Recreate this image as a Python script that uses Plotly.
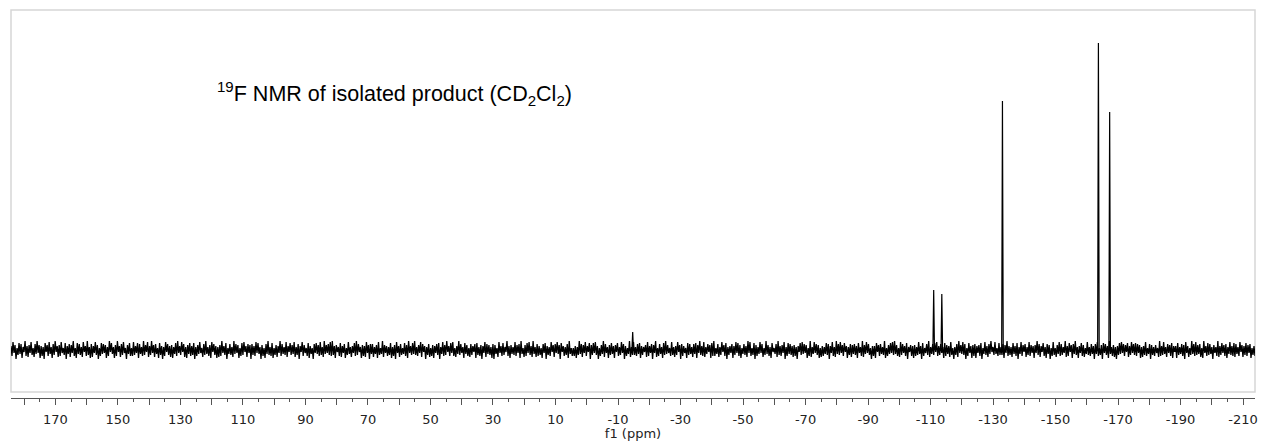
import numpy as np
import plotly.graph_objects as go

# Spectral window (ppm), left to right
ppm_left = 184.2
ppm_right = -213.8

# Baseline noise of the 19F spectrum, sampled evenly across the window
baseline_noise = [
    4, -6, 8, -3, 5, -9, 2, -5, 7, -4, 6, -8, 3, -2, 9, -6, 4, -7, 5, -3,
    8, -5, 2, -7, 6, -4, 9, -3, 5, -8, 4, -6, 3, -9, 7, -2, 5, -6, 8, -4,
    3, -8, 6, -5, 9, -2, 4, -7, 5, -6, 8, -3, 2, -5, 7, -9, 4, -4, 6, -7,
    5, -3, 9, -6, 2, -8, 7, -4, 6, -5, 3, -7, 8, -2, 4, -6, 9, -5, 3, -8,
    6, -7, 4, -3, 8, -5, 5, -9, 2, -6, 7, -4, 6, -3, 5, -8, 3, -6, 9, -2,
    7, -4, 3, -8, 5, -6, 9, -2, 4, -7, 6, -5, 8, -3, 2, -9, 5, -4, 7, -6,
    2, -6, 8, -5, 4, -3, 7, -8, 6, -4, 3, -6, 9, -5, 5, -2, 8, -7, 4, -5,
    9, -3, 5, -7, 6, -4, 2, -8, 7, -5, 4, -9, 3, -6, 8, -2, 6, -5, 4, -7,
    5, -8, 3, -4, 7, -6, 9, -3, 4, -5, 8, -2, 6, -7, 3, -8, 5, -4, 7, -6,
    4, -5, 7, -9, 3, -6, 5, -4, 8, -3, 2, -7, 6, -5, 9, -4, 3, -6, 5, -8,
    8, -2, 6, -5, 4, -8, 3, -7, 5, -6, 9, -3, 4, -5, 7, -9, 2, -4, 6, -5,
    3, -7, 9, -4, 6, -3, 5, -8, 2, -6, 7, -5, 8, -2, 4, -7, 6, -3, 5, -9,
    6, -5, 4, -6, 8, -3, 7, -4, 3, -9, 5, -6, 2, -8, 6, -4, 9, -5, 3, -6,
    7, -8, 2, -5, 5, -7, 4, -3, 9, -6, 6, -4, 3, -5, 8, -7, 4, -2, 7, -5,
    5, -4, 8, -7, 3, -5, 6, -9, 4, -2, 8, -6, 5, -3, 2, -6, 7, -8, 4, -4,
    2, -9, 6, -3, 7, -4, 5, -6, 8, -5, 3, -7, 9, -4, 5, -3, 6, -5, 8, -6,
    9, -5, 4, -8, 5, -2, 3, -6, 7, -7, 4, -3, 6, -8, 2, -5, 8, -4, 3, -7,
    4, -3, 7, -6, 9, -5, 6, -2, 3, -8, 5, -6, 4, -7, 8, -3, 5, -9, 6, -4,
    6, -7, 3, -4, 5, -8, 8, -5, 2, -4, 9, -7, 5, -3, 4, -6, 3, -5, 7, -8,
    3, -6, 5, -9, 8, -3, 4, -7, 6, -5, 2, -4, 7, -6, 5, -8, 9, -3, 4, -5,
    7, -4, 9, -5, 3, -6, 5, -3, 8, -7, 6, -2, 4, -9, 3, -5, 6, -7, 2, -6,
    5, -8, 4, -3, 6, -5, 7, -9, 3, -4, 8, -6, 5, -5, 9, -2, 4, -6, 7, -3,
    8, -6, 2, -7, 4, -4, 9, -5, 6, -3, 3, -8, 7, -4, 5, -6, 2, -7, 6, -5,
    4, -2, 6, -8, 7, -5, 3, -6, 5, -9, 4, -3, 8, -7, 6, -4, 5, -5, 3, -8,
    6, -9, 5, -4, 2, -7, 8, -3, 4, -6, 7, -5, 3, -2, 9, -6, 4, -8, 5, -4,
    3, -5, 8, -6, 5, -3, 6, -8, 9, -4, 2, -7, 5, -6, 7, -3, 8, -5, 4, -7,
    9, -4, 3, -7, 6, -6, 4, -5, 2, -8, 6, -3, 7, -9, 4, -5, 3, -6, 8, -2,
    5, -7, 6, -3, 8, -4, 5, -9, 7, -2, 4, -6, 3, -5, 6, -8, 9, -4, 2, -6,
    2, -6, 4, -8, 3, -5, 9, -4, 6, -7, 5, -3, 8, -6, 4, -2, 7, -9, 5, -5,
    7, -3, 8, -5, 4, -9, 2, -6, 5, -4, 9, -7, 6, -3, 3, -8, 5, -5, 7, -4,
    4, -8, 5, -2, 7, -6, 3, -5, 8, -3, 6, -9, 4, -6, 2, -4, 9, -7, 3, -5,
    8, -5, 3, -6, 6, -4, 7, -8, 4, -5, 3, -2, 5, -7, 8, -6, 4, -3, 6, -9,
    5, -3, 9, -7, 2, -6, 6, -4, 3, -8, 7, -5, 9, -4, 5, -3, 2, -6, 8, -5,
    3, -7, 4, -5, 8, -2, 5, -9, 6, -6, 4, -3, 2, -8, 7, -5, 6, -4, 3, -7,
    6, -4, 7, -8, 5, -3, 9, -5, 4, -6, 8, -7, 3, -4, 6, -2, 5, -8, 7, -6,
    9, -6, 2, -4, 6, -7, 3, -5, 8, -2, 5, -6, 7, -9, 3, -5, 4, -3, 6, -8,
    4, -5, 8, -3, 7, -6, 5, -8, 2, -4, 6, -5, 4, -7, 9, -3, 8, -6, 2, -5,
    7, -9, 5, -6, 3, -4, 8, -3, 6, -7, 2, -5, 9, -4, 5, -6, 3, -8, 7, -2,
    2, -4, 6, -7, 9, -5, 4, -6, 5, -3, 8, -9, 3, -6, 7, -4, 6, -5, 4, -7,
    5, -6, 3, -9, 4, -2, 7, -5, 8, -4, 6, -3, 5, -8, 2, -6, 9, -7, 3, -4,
    8, -3, 6, -5, 5, -8, 2, -7, 4, -6, 3, -4, 7, -5, 6, -9, 4, -3, 8, -6,
    3, -7, 9, -4, 6, -5, 8, -3, 5, -6, 7, -2, 4, -8, 3, -5, 6, -7, 5, -4,
    6, -5, 4, -8, 7, -3, 3, -6, 9, -7, 5, -4, 8, -3, 6, -5, 2, -9, 4, -6,
    4, -8, 7, -2, 5, -6, 6, -4, 3, -5, 9, -8, 2, -6, 5, -4, 7, -3, 8, -5,
    9, -4, 5, -6, 2, -7, 8, -5, 6, -3, 4, -6, 7, -9, 3, -2, 5, -6, 4, -8,
    5, -6, 3, -5, 8, -4, 4, -9, 7, -6, 2, -3, 6, -5, 9, -7, 3, -4, 6, -5,
    7, -2, 8, -6, 4, -5, 6, -3, 3, -8, 7, -6, 5, -4, 4, -7, 8, -5, 2, -9,
    3, -5, 6, -7, 9, -3, 5, -4, 8, -5, 6, -9, 2, -6, 7, -3, 4, -8, 5, -6,
    6, -8, 4, -3, 5, -6, 7, -9, 2, -4, 8, -5, 4, -7, 6, -4, 9, -2, 3, -5,
    8, -4, 2, -6, 7, -5, 3, -5, 6, -8, 5, -3, 9, -6, 4, -5, 3, -7, 7, -4,
    4, -6, 7, -9, 3, -4, 8, -6, 5, -2, 6, -7, 3, -5, 8, -6, 5, -3, 4, -8,
    5, -3, 9, -5, 6, -7, 4, -2, 7, -6, 3, -8, 6, -4, 5, -9, 2, -6, 8, -5,
    2, -7, 5, -4, 8, -6, 6, -5, 3, -3, 9, -7, 4, -6, 7, -2, 5, -8, 6, -4,
    9, -5, 3, -8, 4, -3, 7, -6, 5, -7, 2, -4, 8, -5, 3, -6, 6, -4, 4, -9,
    6, -4, 8, -6, 2, -5, 5, -9, 7, -3, 6, -5, 4, -8, 9, -4, 3, -6, 5, -7,
    3, -9, 4, -5, 7, -4, 8, -3, 6, -6, 5, -2, 7, -7, 4, -5, 8, -3, 6, -5,
    7, -6, 6, -3, 5, -8, 3, -7, 4, -5, 8, -6, 2, -4, 6, -9, 5, -5, 3, -6,
    5, -3, 2, -7, 9, -6, 4, -5, 8, -4, 3, -7, 6, -3, 5, -6, 7, -8, 4, -2,
    4, -8, 7, -5, 3, -4, 6, -6, 5, -9, 8, -3, 4, -7, 2, -5, 9, -4, 6, -6,
    8, -5, 5, -4, 6, -7, 2, -8, 9, -3, 4, -6, 7, -5, 6, -4, 3, -9, 5, -3,
    3, -6, 9, -7, 4, -5, 7, -3, 5, -6, 6, -8, 3, -4, 8, -5, 4, -6, 7, -7,
    6, -4, 3, -6, 8, -2, 5, -7, 4, -5, 7, -6, 5, -3, 6, -8, 2, -5, 4, -6,
]

# Resolved signals: chemical shift (ppm) and intensity
peak_shifts = [-14.7, -111.0, -113.6, -133.0, -163.7, -167.3]
peak_heights = [18, 60, 56, 249, 307, 238]

# Axis ticks: every 10 ppm, labelled every 20 ppm
tick_values = list(range(180, -220, -10))
tick_labels = [str(v) if v % 20 != 0 else "" for v in tick_values]

noise_x = np.linspace(ppm_left, ppm_right, len(baseline_noise))

# Each signal drawn as a narrow spike rising from the baseline
half_width = 0.25
spike_x, spike_y = [], []
for p, h in zip(peak_shifts, peak_heights):
    spike_x += [p + half_width, p, p - half_width, None]
    spike_y += [0, h, 0, None]

fig = go.Figure()
fig.add_trace(go.Scatter(
    x=noise_x, y=baseline_noise, mode="lines",
    line=dict(color="black", width=1.3), hoverinfo="skip", showlegend=False,
))
fig.add_trace(go.Scatter(
    x=spike_x, y=spike_y, mode="lines",
    line=dict(color="black", width=1.2), hoverinfo="skip", showlegend=False,
))

axis_grey = "#555555"
fig.update_xaxes(
    range=[ppm_left, ppm_right],
    showline=True, linecolor=axis_grey, linewidth=1,
    ticks="outside", ticklen=6, tickcolor=axis_grey, tickwidth=1,
    tickmode="array", tickvals=tick_values, ticktext=tick_labels,
    tickfont=dict(family="DejaVu Sans", size=13, color="#222222"),
    ticklabelstandoff=3,
    minor=dict(dtick=5, tick0=0, ticks="outside", ticklen=3,
               tickcolor=axis_grey, showgrid=False),
    showgrid=False, zeroline=False,
    title=dict(text="f1 (ppm)", standoff=0,
               font=dict(family="DejaVu Sans", size=13, color="#222222")),
)
fig.update_yaxes(range=[-48, 340], visible=False)

# Light frame around the spectrum area
fig.add_shape(type="rect", xref="paper", yref="paper",
              x0=0, x1=1, y0=6 / 388, y1=1,
              line=dict(color="#d6d6d6", width=1.5), layer="below")

fig.add_annotation(
    x=119, y=257, xref="x", yref="y", xanchor="left", yanchor="middle",
    text="<sup>19</sup>F NMR of isolated product (CD<sub>2</sub>Cl<sub>2</sub>)",
    showarrow=False,
    font=dict(family="Liberation Sans, Arial", size=21.5, color="black"),
)

fig.update_layout(
    width=1262, height=441,
    margin=dict(l=11, r=4, t=10, b=43),
    plot_bgcolor="white", paper_bgcolor="white",
)

fig.write_html("out.html")
